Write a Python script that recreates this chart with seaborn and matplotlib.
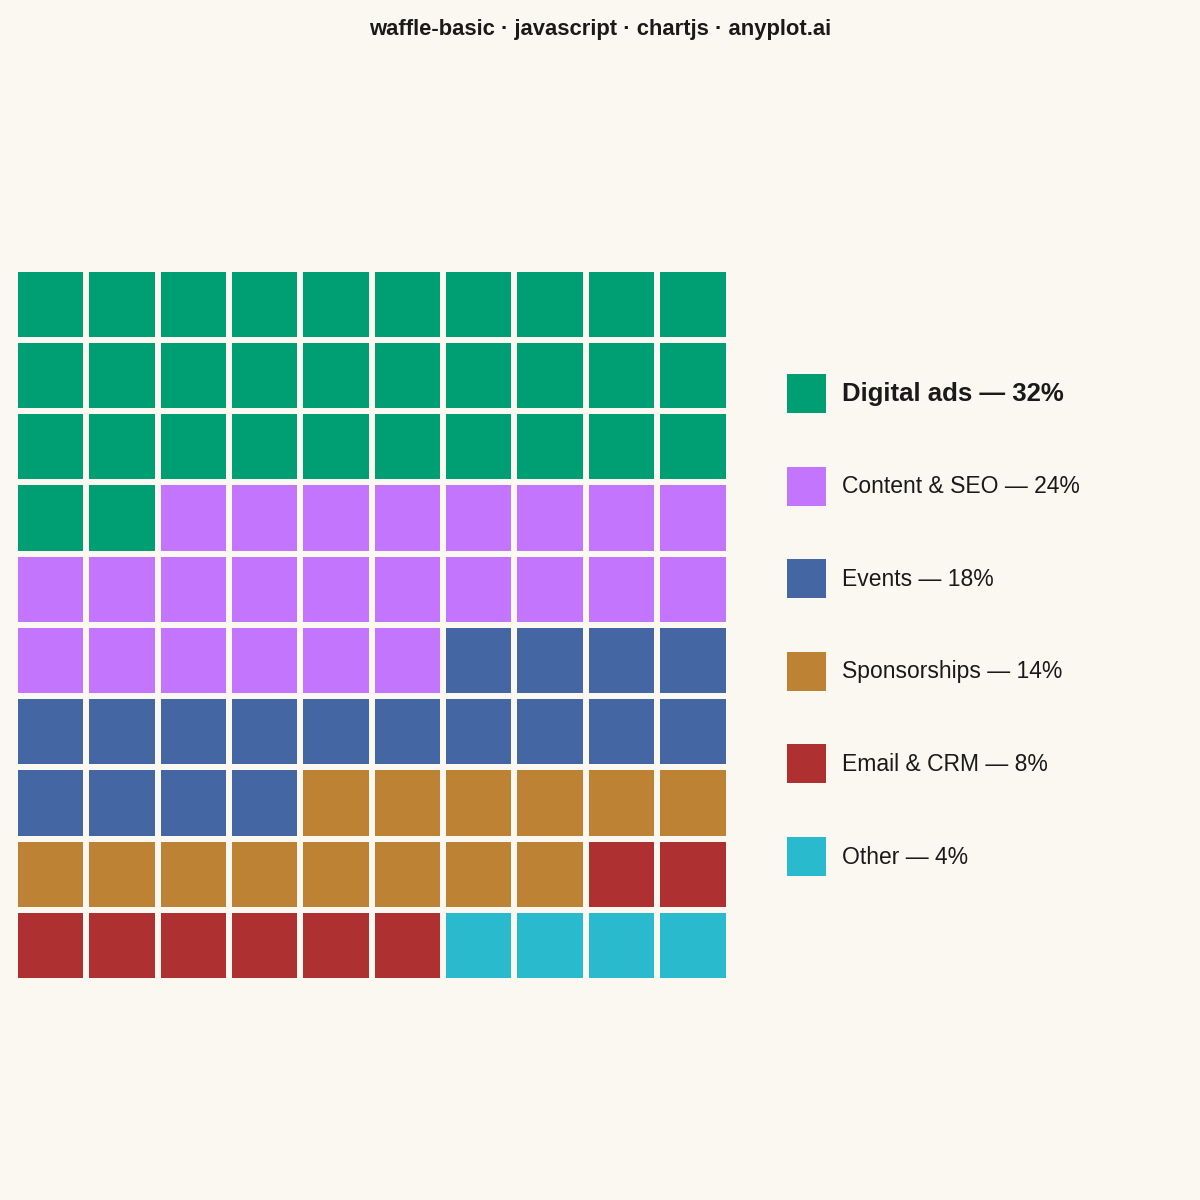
import matplotlib
matplotlib.use("Agg")
import matplotlib.pyplot as plt
from matplotlib.colors import ListedColormap
from matplotlib.patches import Rectangle
import numpy as np
import seaborn as sns

CATEGORIES = ["Digital ads", "Content & SEO", "Events", "Sponsorships", "Email & CRM", "Other"]
PERCENTAGES = [32, 24, 18, 14, 8, 4]
COLORS = ["#009E73", "#C475FD", "#4467A3", "#BD8233", "#AE3030", "#2ABACE"]
GRID_ROWS = 10
GRID_COLS = 10

BG = "#FAF8F1"
INK = "#1A1A1A"
W = H = 1200


def build_grid(counts, rows, cols):
    cells = np.repeat(np.arange(len(counts)), counts)
    return cells.reshape(rows, cols)


def main():
    sns.set_theme(style="white")
    plt.rcParams["font.family"] = ["Liberation Sans", "DejaVu Sans"]

    grid = build_grid(PERCENTAGES, GRID_ROWS, GRID_COLS)

    fig = plt.figure(figsize=(12, 12), dpi=100, facecolor=BG)
    ax = fig.add_axes([15 / W, 1 - 981 / H, 713.5 / W, 712.5 / H])
    ax.set_facecolor(BG)

    sns.heatmap(
        grid,
        ax=ax,
        cmap=ListedColormap(COLORS),
        vmin=-0.5,
        vmax=len(COLORS) - 0.5,
        cbar=False,
        linewidths=3.2,
        linecolor=BG,
        xticklabels=False,
        yticklabels=False,
        square=False,
    )
    for spine in ax.spines.values():
        spine.set_visible(False)

    # legend drawn by hand so the squares and spacing match the original
    box = 39
    row_gap = 92.6
    first_top = 374
    for i, (name, pct, color) in enumerate(zip(CATEGORIES, PERCENTAGES, COLORS)):
        top = first_top + i * row_gap
        fig.add_artist(Rectangle(
            (786.7 / W, 1 - (top + box) / H), box / W, box / H,
            transform=fig.transFigure, facecolor=color, edgecolor="none",
        ))
        fig.text(
            841.7 / W, 1 - (top + box / 2 + 0.5) / H,
            f"{name} \u2014 {pct}%",
            ha="left", va="center", color=INK,
            fontsize=18.5 if i == 0 else 16.5,
            fontweight="bold" if i == 0 else "normal",
        )

    fig.text(
        0.5, 1 - 29 / H,
        "waffle-basic \u00b7 javascript \u00b7 chartjs \u00b7 anyplot.ai",
        ha="center", va="center", fontsize=15.85, fontweight="bold", color=INK,
    )

    fig.savefig("out.png", dpi=100, facecolor=BG)
    plt.close(fig)


if __name__ == "__main__":
    main()
